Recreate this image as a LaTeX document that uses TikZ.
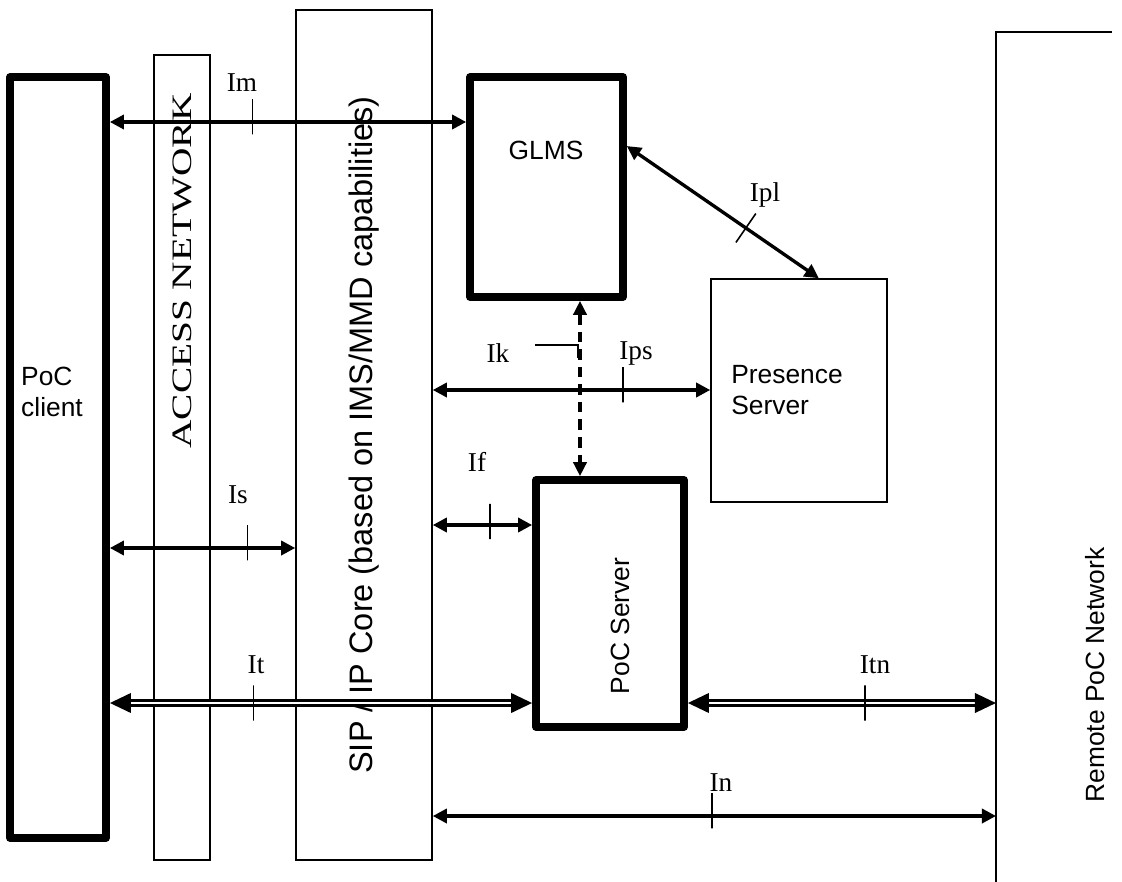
\documentclass[tikz,border=0pt]{standalone}
\usepackage{fontspec}
\setmainfont{Liberation Serif}
\setsansfont{Liberation Sans}
\usetikzlibrary{arrows.meta, positioning}

\begin{document}
\begin{tikzpicture}[x=0.02cm, y=-0.02cm,
  box/.style={draw, line width=0.9pt, inner sep=0pt},
  heavy/.style={draw, line width=4.4pt, line join=round, inner sep=0pt},
  link/.style={<->, >={Triangle[length=8pt, width=8pt]}, line width=1.9pt},
  dlink/.style={<->, >={Triangle[length=12pt, width=11pt]}, double=white, line width=1.6pt, double distance=1.2pt},
  dash link/.style={<->, >={Triangle[length=8pt, width=7.5pt]}, line width=1.9pt, dash pattern=on 6pt off 4pt},
  tick/.style={draw, line width=0.9pt, minimum width=0pt, minimum height=20pt, inner sep=0pt, outer sep=0pt},
  lbl/.style={font=\fontsize{15.5}{18}\selectfont},
  sans/.style={font=\sffamily\fontsize{15}{17.5}\selectfont}]
  \useasboundingbox (0,0) rectangle (1122,882);

  % columns
  \node[heavy, minimum width=1.92cm, minimum height=15.22cm] (client) at (58,457.5) {};
  \node[box, minimum width=1.12cm, minimum height=16.1cm] (access) at (182,457.5) {};
  \node[box, minimum width=2.72cm, minimum height=17cm] (sip) at (364,435) {};
  \coordinate (remote) at (996,32);
  \draw[line width=0.9pt] (remote |- 0,882) |- (1112,32);

  % servers
  \node[heavy, minimum width=3.06cm, minimum height=4.4cm] (glms) at (546.5,187) {};
  \node[box, minimum width=3.52cm, minimum height=4.46cm] (presence) at (799,390.5) {};
  \node[heavy, minimum width=2.96cm, minimum height=4.94cm] (pocserver) at (610,603.5) {};

  % texts
  \node[sans, align=left] (clienttext) at (52,392) {PoC\\client};
  \node[font=\fontsize{16}{18}\selectfont, rotate=90, xscale=1.4] (accesstext) at (182,271) {ACCESS NETWORK};
  \node[sans, font=\sffamily\fontsize{18.5}{20}\selectfont, rotate=90] (siptext) at (sip) {SIP / IP Core (based on IMS/MMD capabilities)};
  \node[sans] (glmstext) at (546,150) {GLMS};
  \node[sans, align=left] (presencetext) at (787,390) {Presence\\Server};
  \node[sans, rotate=90] (pocservertext) at (620,626) {PoC Server};
  \node[sans, rotate=90] (remotetext) at (1095,675) {Remote PoC Network};

  % interfaces
  \coordinate (im) at (0,122);
  \coordinate (ips) at (0,390);
  \coordinate (if) at (0,525);
  \coordinate (is) at (0,548);
  \coordinate (it) at (0,703);
  \coordinate (in) at (0,816);
  \coordinate (ik) at (580,0);

  \draw[link] (client.east |- im) -- node[tick, pos=0.4, yshift=3pt] {} (glms.west |- im);
  \draw[link] (glms.27) -- node[tick, sloped, pos=0.62] {} (presence.80);
  \draw[dash link] (glms.south -| ik) -- (pocserver.north -| ik);
  \draw[link] (sip.east |- ips) -- node[tick, pos=0.685, yshift=3pt] {} (presence.west |- ips);
  \draw[link] (sip.east |- if) -- node[tick, pos=0.577, yshift=2pt] {} (pocserver.west |- if);
  \draw[link] (client.east |- is) -- node[tick, pos=0.742, yshift=3pt] {} (sip.west |- is);
  \draw[dlink] (client.east |- it) -- node[tick, pos=0.34] {} (pocserver.west |- it);
  \draw[dlink] (pocserver.east |- it) -- node[tick, pos=0.574] {} (remote |- it);
  \draw[link] (sip.east |- in) -- node[tick, pos=0.496, yshift=3pt] {} (remote |- in);

  % labels
  \node[lbl] (imlabel) at (242,83) {Im};
  \node[lbl] (ipllabel) at (765,195) {Ipl};
  \node[lbl] (iklabel) at (498,353) {Ik};
  \node[lbl] (ipslabel) at (636,353) {Ips};
  \node[lbl] (iflabel) at (477,462) {If};
  \node[lbl] (islabel) at (238,495) {Is};
  \node[lbl] (itlabel) at (256,665) {It};
  \node[lbl] (itnlabel) at (875,665) {Itn};
  \node[lbl] (inlabel) at (721,783) {In};
  \coordinate (ikleader) at (535,345);
  \draw[line width=0.9pt] (ikleader) -| (578,358);
\end{tikzpicture}
\end{document}
